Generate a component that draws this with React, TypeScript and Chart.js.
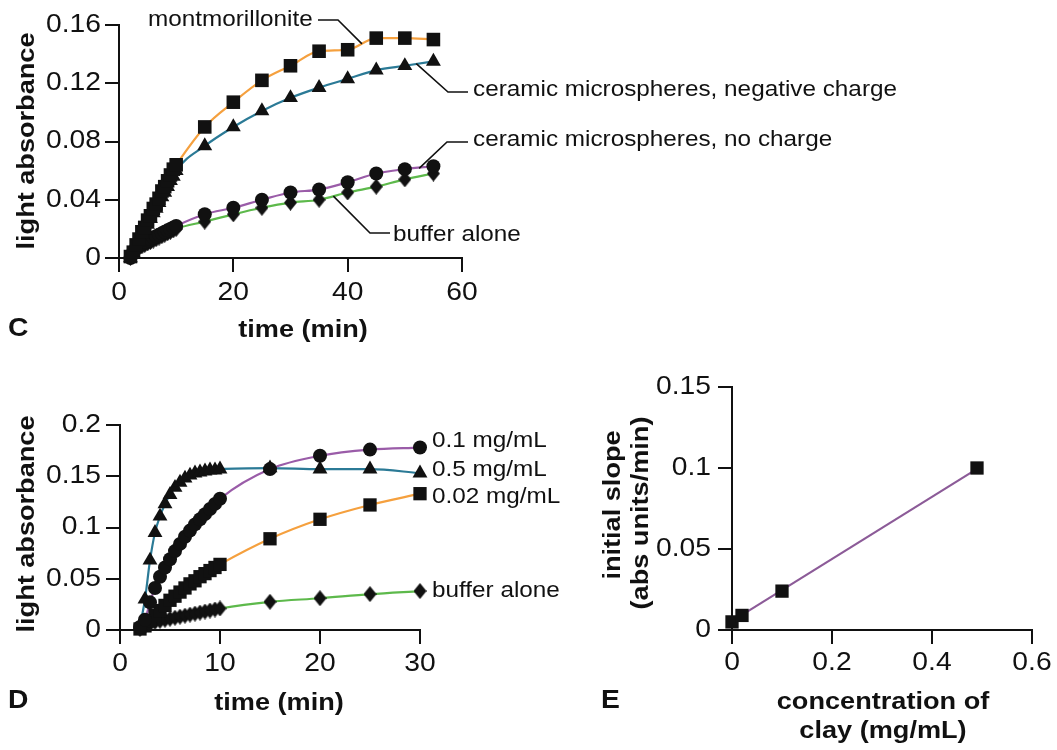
import React, { useEffect, useRef } from 'react';
import { Chart, registerables } from 'chart.js';

Chart.register(...registerables);

const W = 1057;
const H = 750;
const FONT = '"Liberation Sans", Arial, Helvetica, sans-serif';
const SX = 1.13;
const INK = '#111111';
const ORANGE = '#F5A03E';
const TEAL = '#2B7A96';
const PURPLE = '#9A5CA8';
const GREEN = '#5DB94B';
const E_PURPLE = '#8C5B98';

// ---------- Panel C ----------
const cTime = [2, 2.5, 3, 3.5, 4, 4.5, 5, 5.5, 6, 6.5, 7, 7.5, 8, 8.5, 9, 9.5, 10, 15, 20, 25, 30, 35, 40, 45, 50, 55];
const cMontmorillonite = [0.001, 0.004, 0.009, 0.013, 0.018, 0.021, 0.026, 0.029, 0.034, 0.037, 0.041, 0.046, 0.049, 0.053, 0.057, 0.061, 0.064, 0.090, 0.107, 0.122, 0.132, 0.142, 0.143, 0.151, 0.151, 0.150];
const cNegative = [0.000, 0.004, 0.008, 0.011, 0.016, 0.019, 0.023, 0.027, 0.031, 0.034, 0.038, 0.042, 0.045, 0.049, 0.053, 0.056, 0.060, 0.077, 0.090, 0.101, 0.110, 0.117, 0.123, 0.129, 0.132, 0.135];
const cNoCharge = [0.000, 0.004, 0.007, 0.009, 0.010, 0.011, 0.012, 0.013, 0.014, 0.015, 0.016, 0.017, 0.018, 0.019, 0.020, 0.021, 0.022, 0.030, 0.0345, 0.040, 0.045, 0.047, 0.052, 0.058, 0.061, 0.063];
const cBuffer = [0.000, 0.003, 0.005, 0.007, 0.008, 0.009, 0.010, 0.011, 0.012, 0.013, 0.014, 0.015, 0.016, 0.017, 0.018, 0.019, 0.020, 0.025, 0.030, 0.0345, 0.038, 0.040, 0.045, 0.049, 0.054, 0.058];
const cSeriesLabels = ['montmorillonite', 'ceramic microspheres, negative charge', 'ceramic microspheres, no charge', 'buffer alone'];
const cXTicks = [0, 20, 40, 60];
const cXTickLabels = ['0', '20', '40', '60'];
const cYTicks = [0, 0.04, 0.08, 0.12, 0.16];
const cYTickLabels = ['0', '0.04', '0.08', '0.12', '0.16'];

// ---------- Panel D ----------
const dTime = [2, 2.5, 3, 3.5, 4, 4.5, 5, 5.5, 6, 6.5, 7, 7.5, 8, 8.5, 9, 9.5, 10, 15, 20, 25, 30];
const d01 = [0.003, 0.010, 0.027, 0.041, 0.052, 0.061, 0.069, 0.077, 0.084, 0.091, 0.097, 0.103, 0.108, 0.113, 0.118, 0.123, 0.128, 0.157, 0.170, 0.176, 0.178];
const d05 = [0.004, 0.030, 0.068, 0.095, 0.111, 0.123, 0.132, 0.139, 0.144, 0.148, 0.151, 0.153, 0.154, 0.155, 0.156, 0.156, 0.157, 0.158, 0.157, 0.157, 0.153];
const d002 = [0.001, 0.004, 0.009, 0.014, 0.019, 0.024, 0.029, 0.033, 0.037, 0.041, 0.045, 0.048, 0.052, 0.055, 0.058, 0.061, 0.064, 0.089, 0.108, 0.122, 0.133];
const dBuffer = [0.001, 0.004, 0.006, 0.008, 0.009, 0.010, 0.011, 0.012, 0.013, 0.014, 0.015, 0.016, 0.017, 0.018, 0.019, 0.020, 0.021, 0.0275, 0.031, 0.035, 0.038];
const dSeriesLabels = ['0.1 mg/mL', '0.5 mg/mL', '0.02 mg/mL', 'buffer alone'];
const dXTicks = [0, 10, 20, 30];
const dXTickLabels = ['0', '10', '20', '30'];
const dYTicks = [0, 0.05, 0.1, 0.15, 0.2];
const dYTickLabels = ['0', '0.05', '0.1', '0.15', '0.2'];

// ---------- Panel E ----------
const eConc = [0, 0.02, 0.1, 0.49];
const eSlope = [0.005, 0.009, 0.024, 0.1];
const eFitConc = [0, 0.49];
const eFitSlope = [0.0055, 0.0995];
const eXTicks = [0, 0.2, 0.4, 0.6];
const eXTickLabels = ['0', '0.2', '0.4', '0.6'];
const eYTicks = [0, 0.05, 0.1, 0.15];
const eYTickLabels = ['0', '0.05', '0.1', '0.15'];

type Area = { left: number; top: number; right: number; bottom: number };

function drawText(
  ctx: CanvasRenderingContext2D,
  s: string,
  x: number,
  y: number,
  o: { size: number; bold?: boolean; align?: CanvasTextAlign; rot?: number }
) {
  ctx.save();
  ctx.translate(x, y);
  if (o.rot) ctx.rotate(o.rot);
  ctx.scale(SX, 1);
  ctx.font = `${o.bold ? 'bold ' : ''}${o.size}px ${FONT}`;
  ctx.textAlign = o.align || 'left';
  ctx.textBaseline = 'middle';
  ctx.fillStyle = INK;
  ctx.fillText(s, 0, 0);
  ctx.restore();
}

function drawTickLabels(chart: any, xt: number[], xl: string[], yt: number[], yl: string[], xOff: number, yOff: number) {
  const ctx = chart.ctx as CanvasRenderingContext2D;
  const a = chart.chartArea;
  xt.forEach((v, i) => drawText(ctx, xl[i], chart.scales.x.getPixelForValue(v), a.bottom + xOff, { size: 25, align: 'center' }));
  yt.forEach((v, i) => drawText(ctx, yl[i], a.left - yOff, chart.scales.y.getPixelForValue(v), { size: 25, align: 'right' }));
}

function pts(xs: number[], ys: number[]) {
  return xs.map((x, i) => ({ x, y: ys[i] }));
}

function lineDs(xs: number[], ys: number[], color: string, smooth = true) {
  return {
    data: pts(xs, ys),
    borderColor: color,
    borderWidth: 2.2,
    pointRadius: 0,
    fill: false,
    cubicInterpolationMode: smooth ? 'monotone' : 'default',
    tension: 0,
    clip: false,
    order: 2,
  };
}

function markerDs(xs: number[], ys: number[], style: any, radius: number) {
  return {
    data: pts(xs, ys),
    showLine: false,
    pointStyle: style,
    pointRadius: radius,
    pointBackgroundColor: INK,
    pointBorderColor: INK,
    pointBorderWidth: 0,
    clip: false,
    order: 1,
  };
}

function makeDiamond(w: number, h: number) {
  const c = document.createElement('canvas');
  c.width = w;
  c.height = h;
  const g = c.getContext('2d')!;
  g.fillStyle = INK;
  g.beginPath();
  g.moveTo(w / 2, 0);
  g.lineTo(w, h / 2);
  g.lineTo(w / 2, h);
  g.lineTo(0, h / 2);
  g.closePath();
  g.fill();
  return c;
}

function axis(min: number, max: number, ticks: number[], fit: (s: any) => void) {
  return {
    type: 'linear',
    min,
    max,
    afterBuildTicks: (s: any) => {
      s.ticks = ticks.map((v) => ({ value: v }));
    },
    afterFit: fit,
    ticks: { display: false },
    grid: { display: true, drawOnChartArea: false, drawTicks: true, tickLength: 14, color: INK, lineWidth: 2 },
    border: { display: true, color: INK, width: 2 },
  };
}

function makeConfig(area: Area, xr: [number, number], yr: [number, number], xt: number[], yt: number[], datasets: any[], draw: (c: any) => void) {
  return {
    type: 'line',
    data: { datasets },
    options: {
      responsive: false,
      animation: false,
      events: [],
      layout: { padding: { left: 0, top: area.top, right: W - area.right, bottom: 0 } },
      plugins: { legend: { display: false }, tooltip: { enabled: false } },
      scales: {
        x: axis(xr[0], xr[1], xt, (s: any) => {
          s.height = H - area.bottom;
        }),
        y: axis(yr[0], yr[1], yt, (s: any) => {
          s.width = area.left;
        }),
      },
    },
    plugins: [{ id: 'texts', afterDraw: (c: any) => draw(c) }],
  };
}

function leader(chart: any, anchor: [number, number], pts2: [number, number][]) {
  const ctx = chart.ctx as CanvasRenderingContext2D;
  const ax = chart.scales.x.getPixelForValue(anchor[0]);
  const ay = chart.scales.y.getPixelForValue(anchor[1]);
  ctx.save();
  ctx.strokeStyle = INK;
  ctx.lineWidth = 1.6;
  ctx.beginPath();
  ctx.moveTo(ax, ay);
  pts2.forEach((p) => ctx.lineTo(p[0], p[1]));
  ctx.stroke();
  ctx.restore();
}

function buildC(diamond: HTMLCanvasElement) {
  const area = { left: 119, top: 25, right: 462, bottom: 258 };
  const datasets = [
    markerDs(cTime, cMontmorillonite, 'rect', 9.6),
    markerDs(cTime, cNegative, 'triangle', 8.6),
    markerDs(cTime, cNoCharge, 'circle', 7),
    markerDs(cTime, cBuffer, diamond, 7),
    lineDs(cTime, cMontmorillonite, ORANGE),
    lineDs(cTime, cNegative, TEAL),
    lineDs(cTime, cNoCharge, PURPLE),
    lineDs(cTime, cBuffer, GREEN),
  ];
  return makeConfig(area, [0, 60], [0, 0.16], cXTicks, cYTicks, datasets, (chart) => {
    const ctx = chart.ctx;
    drawTickLabels(chart, cXTicks, cXTickLabels, cYTicks, cYTickLabels, 35, 18);
    drawText(ctx, 'light absorbance', 27, 141, { size: 24, bold: true, align: 'center', rot: -Math.PI / 2 });
    drawText(ctx, 'time (min)', 303, 330, { size: 24, bold: true, align: 'center' });
    drawText(ctx, 'C', 8, 329, { size: 25, bold: true, align: 'left' });
    leader(chart, [42.5, 0.147], [[338, 20], [318, 20]]);
    drawText(ctx, cSeriesLabels[0], 148, 20, { size: 21.5 });
    leader(chart, [52, 0.1335], [[448, 92], [468, 92]]);
    drawText(ctx, cSeriesLabels[1], 473, 90, { size: 21.5 });
    leader(chart, [52.5, 0.0615], [[447, 142], [468, 142]]);
    drawText(ctx, cSeriesLabels[2], 473, 140, { size: 21.5 });
    leader(chart, [37.5, 0.0425], [[370, 233], [390, 233]]);
    drawText(ctx, cSeriesLabels[3], 393, 235, { size: 21.5 });
  });
}

function buildD(diamond: HTMLCanvasElement) {
  const area = { left: 120, top: 425, right: 420, bottom: 630 };
  const datasets = [
    markerDs(dTime, d01, 'circle', 7),
    markerDs(dTime, d05, 'triangle', 8.6),
    markerDs(dTime, d002, 'rect', 9.4),
    markerDs(dTime, dBuffer, diamond, 7),
    lineDs(dTime, d01, PURPLE),
    lineDs(dTime, d05, TEAL),
    lineDs(dTime, d002, ORANGE),
    lineDs(dTime, dBuffer, GREEN),
  ];
  return makeConfig(area, [0, 30], [0, 0.2], dXTicks, dYTicks, datasets, (chart) => {
    const ctx = chart.ctx;
    drawTickLabels(chart, dXTicks, dXTickLabels, dYTicks, dYTickLabels, 34, 19);
    drawText(ctx, 'light absorbance', 27, 524, { size: 24, bold: true, align: 'center', rot: -Math.PI / 2 });
    drawText(ctx, 'time (min)', 279, 703, { size: 24, bold: true, align: 'center' });
    drawText(ctx, 'D', 8, 701, { size: 25, bold: true, align: 'left' });
    drawText(ctx, dSeriesLabels[0], 432, 441, { size: 21.5 });
    drawText(ctx, dSeriesLabels[1], 432, 470, { size: 21.5 });
    drawText(ctx, dSeriesLabels[2], 432, 497, { size: 21.5 });
    drawText(ctx, dSeriesLabels[3], 432, 591, { size: 21.5 });
  });
}

function buildE() {
  const area = { left: 732, top: 387, right: 1032, bottom: 630 };
  const datasets = [
    markerDs(eConc, eSlope, 'rect', 9.4),
    lineDs(eFitConc, eFitSlope, E_PURPLE, false),
  ];
  return makeConfig(area, [0, 0.6], [0, 0.15], eXTicks, eYTicks, datasets, (chart) => {
    const ctx = chart.ctx;
    drawTickLabels(chart, eXTicks, eXTickLabels, eYTicks, eYTickLabels, 33, 21);
    drawText(ctx, 'initial slope', 613, 505, { size: 24, bold: true, align: 'center', rot: -Math.PI / 2 });
    drawText(ctx, '(abs units/min)', 641, 513, { size: 24, bold: true, align: 'center', rot: -Math.PI / 2 });
    drawText(ctx, 'concentration of', 883, 702, { size: 24, bold: true, align: 'center' });
    drawText(ctx, 'clay (mg/mL)', 883, 731, { size: 24, bold: true, align: 'center' });
    drawText(ctx, 'E', 601, 701, { size: 25, bold: true, align: 'left' });
  });
}

const canvasStyle: React.CSSProperties = { position: 'absolute', left: 0, top: 0, width: W, height: H };

export default function App() {
  const cRef = useRef<HTMLCanvasElement>(null);
  const dRef = useRef<HTMLCanvasElement>(null);
  const eRef = useRef<HTMLCanvasElement>(null);

  useEffect(() => {
    const diamond = makeDiamond(13, 16);
    const charts = [
      new Chart(cRef.current!, buildC(diamond) as any),
      new Chart(dRef.current!, buildD(diamond) as any),
      new Chart(eRef.current!, buildE() as any),
    ];
    return () => charts.forEach((c) => c.destroy());
  }, []);

  return (
    <div style={{ position: 'absolute', left: 0, top: 0, width: W, height: H, background: '#fff' }}>
      <canvas ref={cRef} width={W} height={H} style={canvasStyle} />
      <canvas ref={dRef} width={W} height={H} style={canvasStyle} />
      <canvas ref={eRef} width={W} height={H} style={canvasStyle} />
    </div>
  );
}
